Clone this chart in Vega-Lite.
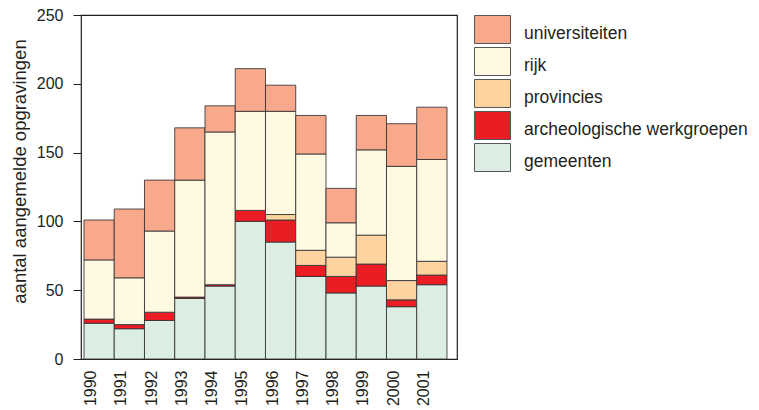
{
  "$schema": "https://vega.github.io/schema/vega-lite/v6.json",
  "width": 376,
  "height": 344,
  "autosize": "none",
  "padding": {"left": 81, "top": 15, "right": 302, "bottom": 51},
  "background": "white",
  "config": {
    "font": "Liberation Sans",
    "view": {"stroke": "#231f20", "strokeWidth": 1.2},
    "axis": {"labelColor": "#231f20", "titleColor": "#231f20", "tickColor": "#231f20", "domainColor": "#231f20"}
  },
  "data": {
    "values": [
      {"jaar": "1990", "categorie": "gemeenten", "aantal": 26},
      {"jaar": "1990", "categorie": "archeologische werkgroepen", "aantal": 3},
      {"jaar": "1990", "categorie": "rijk", "aantal": 43},
      {"jaar": "1990", "categorie": "universiteiten", "aantal": 29},
      {"jaar": "1991", "categorie": "gemeenten", "aantal": 22},
      {"jaar": "1991", "categorie": "archeologische werkgroepen", "aantal": 3},
      {"jaar": "1991", "categorie": "rijk", "aantal": 34},
      {"jaar": "1991", "categorie": "universiteiten", "aantal": 50},
      {"jaar": "1992", "categorie": "gemeenten", "aantal": 28},
      {"jaar": "1992", "categorie": "archeologische werkgroepen", "aantal": 6},
      {"jaar": "1992", "categorie": "rijk", "aantal": 59},
      {"jaar": "1992", "categorie": "universiteiten", "aantal": 37},
      {"jaar": "1993", "categorie": "gemeenten", "aantal": 44},
      {"jaar": "1993", "categorie": "archeologische werkgroepen", "aantal": 1},
      {"jaar": "1993", "categorie": "rijk", "aantal": 85},
      {"jaar": "1993", "categorie": "universiteiten", "aantal": 38},
      {"jaar": "1994", "categorie": "gemeenten", "aantal": 53},
      {"jaar": "1994", "categorie": "archeologische werkgroepen", "aantal": 1},
      {"jaar": "1994", "categorie": "rijk", "aantal": 111},
      {"jaar": "1994", "categorie": "universiteiten", "aantal": 19},
      {"jaar": "1995", "categorie": "gemeenten", "aantal": 100},
      {"jaar": "1995", "categorie": "archeologische werkgroepen", "aantal": 8},
      {"jaar": "1995", "categorie": "rijk", "aantal": 72},
      {"jaar": "1995", "categorie": "universiteiten", "aantal": 31},
      {"jaar": "1996", "categorie": "gemeenten", "aantal": 85},
      {"jaar": "1996", "categorie": "archeologische werkgroepen", "aantal": 16},
      {"jaar": "1996", "categorie": "provincies", "aantal": 4},
      {"jaar": "1996", "categorie": "rijk", "aantal": 75},
      {"jaar": "1996", "categorie": "universiteiten", "aantal": 19},
      {"jaar": "1997", "categorie": "gemeenten", "aantal": 60},
      {"jaar": "1997", "categorie": "archeologische werkgroepen", "aantal": 8},
      {"jaar": "1997", "categorie": "provincies", "aantal": 11},
      {"jaar": "1997", "categorie": "rijk", "aantal": 70},
      {"jaar": "1997", "categorie": "universiteiten", "aantal": 28},
      {"jaar": "1998", "categorie": "gemeenten", "aantal": 48},
      {"jaar": "1998", "categorie": "archeologische werkgroepen", "aantal": 12},
      {"jaar": "1998", "categorie": "provincies", "aantal": 14},
      {"jaar": "1998", "categorie": "rijk", "aantal": 25},
      {"jaar": "1998", "categorie": "universiteiten", "aantal": 25},
      {"jaar": "1999", "categorie": "gemeenten", "aantal": 53},
      {"jaar": "1999", "categorie": "archeologische werkgroepen", "aantal": 16},
      {"jaar": "1999", "categorie": "provincies", "aantal": 21},
      {"jaar": "1999", "categorie": "rijk", "aantal": 62},
      {"jaar": "1999", "categorie": "universiteiten", "aantal": 25},
      {"jaar": "2000", "categorie": "gemeenten", "aantal": 38},
      {"jaar": "2000", "categorie": "archeologische werkgroepen", "aantal": 5},
      {"jaar": "2000", "categorie": "provincies", "aantal": 14},
      {"jaar": "2000", "categorie": "rijk", "aantal": 83},
      {"jaar": "2000", "categorie": "universiteiten", "aantal": 31},
      {"jaar": "2001", "categorie": "gemeenten", "aantal": 54},
      {"jaar": "2001", "categorie": "archeologische werkgroepen", "aantal": 7},
      {"jaar": "2001", "categorie": "provincies", "aantal": 10},
      {"jaar": "2001", "categorie": "rijk", "aantal": 74},
      {"jaar": "2001", "categorie": "universiteiten", "aantal": 38}
    ]
  },
  "transform": [
    {"calculate": "indexof(['gemeenten', 'archeologische werkgroepen', 'provincies', 'rijk', 'universiteiten'], datum.categorie)", "as": "volgorde"}
  ],
  "mark": {"type": "bar", "stroke": "#333333", "strokeWidth": 1, "strokeOpacity": 0.85},
  "encoding": {
    "x": {
      "field": "jaar",
      "type": "ordinal",
      "scale": {"paddingInner": 0, "paddingOuter": 0.215, "align": 0.23},
      "axis": {
        "title": null,
        "labelAngle": -90,
        "labelFontSize": 16,
        "labelPadding": 11,
        "labelOffset": -8,
        "ticks": false,
        "tickSize": 0,
        "domain": false
      }
    },
    "y": {
      "field": "aantal",
      "type": "quantitative",
      "stack": "zero",
      "scale": {"domain": [0, 250], "nice": false},
      "axis": {
        "values": [0, 50, 100, 150, 200, 250],
        "grid": false,
        "domain": false,
        "tickSize": 8,
        "labelPadding": 10,
        "labelFontSize": 16,
        "title": "aantal aangemelde opgravingen",
        "titleFontSize": 18.5,
        "titleFontWeight": "normal",
        "titleAngle": -90,
        "titleAlign": "center",
        "titleBaseline": "alphabetic",
        "titleX": -56,
        "titleY": 156
      }
    },
    "order": {"field": "volgorde", "type": "quantitative", "sort": "ascending"},
    "color": {
      "field": "categorie",
      "type": "nominal",
      "scale": {
        "domain": ["universiteiten", "rijk", "provincies", "archeologische werkgroepen", "gemeenten"],
        "range": ["#F8A98B", "#FFF9E2", "#FDD3A0", "#EC1C24", "#DCEDE3"]
      },
      "legend": {
        "title": null,
        "orient": "none",
        "legendX": 397,
        "legendY": 4,
        "padding": 0,
        "symbolType": "M-1.286,-1.286H1.286V0.714H-1.286Z",
        "symbolSize": 784,
        "symbolStrokeColor": "#555555",
        "symbolStrokeWidth": 1,
        "symbolOpacity": 1,
        "rowPadding": -1,
        "labelOffset": 17,
        "labelFontSize": 17.5,
        "labelColor": "#231f20",
        "labelLimit": 400
      }
    }
  }
}
